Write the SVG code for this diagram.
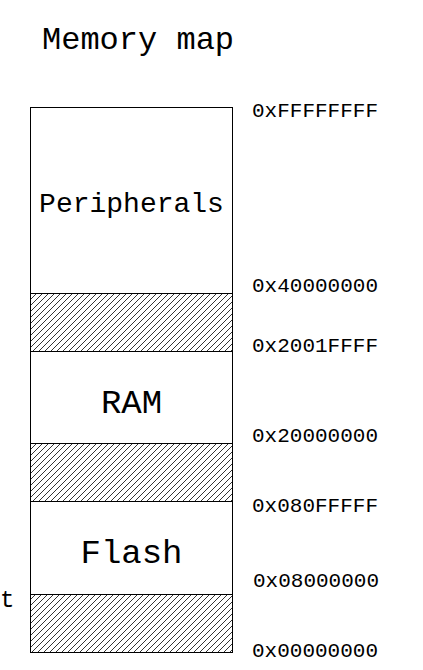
<svg xmlns="http://www.w3.org/2000/svg" width="423" height="670" viewBox="0 0 423 670">
<defs>
<pattern id="hatch" patternUnits="userSpaceOnUse" width="6" height="6">
<path d="M-1,1 l2,-2 M0,6 l6,-6 M5,7 l2,-2" stroke="#000" stroke-width="0.8"/>
</pattern>
</defs>
<style>
.box{fill:#fff;stroke:#000;stroke-width:1}
.res{fill:url(#hatch);stroke:#000;stroke-width:1}
.lbl{font-family:"Liberation Mono","DejaVu Sans Mono",monospace;font-size:34px;text-anchor:middle;fill:#000}
.addr{font-family:"Liberation Mono","DejaVu Sans Mono",monospace;font-size:21px;fill:#000}
.title{font-family:"Liberation Mono","DejaVu Sans Mono",monospace;font-size:32px;fill:#000}
</style>
<rect width="423" height="670" fill="#fff"/>
<text class="title" x="42" y="49">Memory map</text>
<g id="peripherals"><rect class="box" x="30.5" y="107.5" width="202" height="186"/><text class="lbl" x="131.5" y="212" style="font-size:28px">Peripherals</text></g>
<g id="reserved1"><rect class="res" x="30.5" y="293.5" width="202" height="58"/></g>
<g id="ram"><rect class="box" x="30.5" y="351.5" width="202" height="92"/><text class="lbl" x="131.5" y="413">RAM</text></g>
<g id="reserved2"><rect class="res" x="30.5" y="443.5" width="202" height="58"/></g>
<g id="flash"><rect class="box" x="30.5" y="501.5" width="202" height="93"/><text class="lbl" x="131.5" y="563">Flash</text></g>
<g id="reserved3"><rect class="res" x="30.5" y="594.5" width="202" height="58"/></g>
<g id="addresses">
<text class="addr" x="252" y="117">0xFFFFFFFF</text>
<text class="addr" x="252" y="292">0x40000000</text>
<text class="addr" x="252" y="352">0x2001FFFF</text>
<text class="addr" x="252" y="442">0x20000000</text>
<text class="addr" x="252" y="512">0x080FFFFF</text>
<text class="addr" x="253" y="587">0x08000000</text>
<text class="addr" x="252" y="657">0x00000000</text>
</g>
<text class="addr" x="0" y="607" style="font-size:24px">t</text>
</svg>
